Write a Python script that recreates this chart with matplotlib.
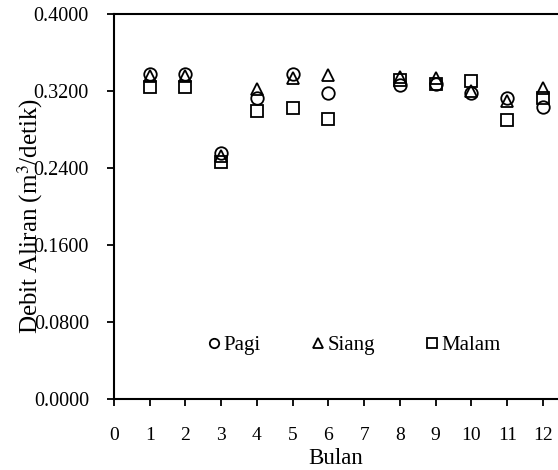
import matplotlib.pyplot as plt
import numpy as np

plt.rcParams['font.family'] = ['Liberation Serif', 'DejaVu Serif']
plt.rcParams['mathtext.fontset'] = 'stix'

bulan = [1, 2, 3, 4, 5, 6, 8, 9, 10, 11, 12]
pagi = [0.338, 0.338, 0.2556, 0.3127, 0.338, 0.3184, 0.3265, 0.327, 0.318, 0.3124, 0.303]
siang = [0.336, 0.336, 0.253, 0.322, 0.334, 0.3366, 0.335, 0.334, 0.320, 0.310, 0.3227]
malam = [0.324, 0.324, 0.246, 0.299, 0.3026, 0.2912, 0.332, 0.327, 0.330, 0.2899, 0.3132]

xticks = np.arange(0, 13)
yticks = [0.0, 0.08, 0.16, 0.24, 0.32, 0.40]

fig = plt.figure(figsize=(5.58, 4.70), dpi=100)
ax = fig.add_axes([0.2043, 0.151, 0.7957, 0.819])

style = dict(linestyle='none', markerfacecolor='none', markeredgecolor='black',
             markeredgewidth=1.3, markersize=9)
ax.plot(bulan, pagi, marker='o', label='Pagi', **style)
ax.plot(bulan, siang, marker='^', label='Siang', **style)
ax.plot(bulan, malam, marker='s', label='Malam', **style)

ax.set_xlim(0, 12.42)
ax.set_ylim(0, 0.4)
ax.set_xticks(xticks)
ax.set_yticks(yticks)
ax.set_yticklabels([f'{v:.4f}' for v in yticks])
ax.tick_params(axis='both', direction='out', length=5, width=1.3)
ax.tick_params(axis='x', pad=15, labelsize=14)
ax.tick_params(axis='y', pad=13, labelsize=14.5)

for s in ['left', 'bottom', 'top']:
    ax.spines[s].set_linewidth(1.5)
ax.spines['right'].set_visible(False)

ax.set_xlabel('Bulan', fontsize=16.5, labelpad=3)
ax.set_ylabel('Debit Aliran (m$^3$/detik)', fontsize=18)
ax.yaxis.set_label_coords(-0.155, 0.475)

ax.legend(loc='center', bbox_to_anchor=(0.543, 0.14), ncol=3, frameon=False,
          fontsize=15, markerscale=0.75, handlelength=0.5, handletextpad=0.2,
          columnspacing=2.5)

fig.savefig('out.png', dpi=100)
